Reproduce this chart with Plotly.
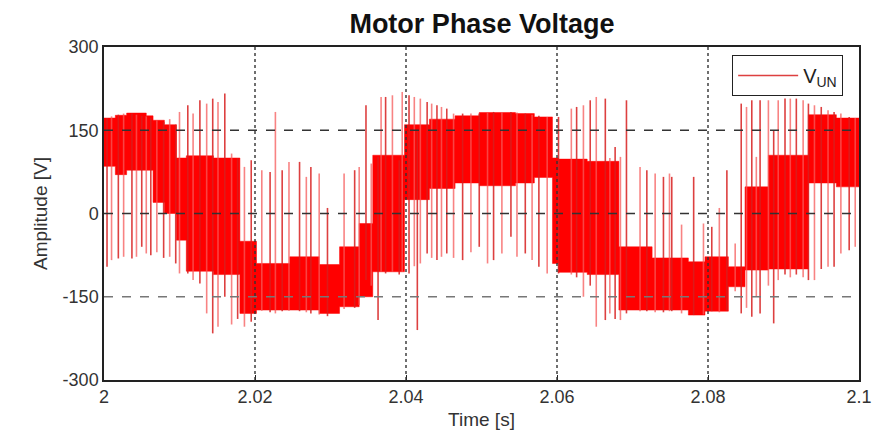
import plotly.graph_objects as go

# ---- data, time offsets in ms after t = 2 s ----
# dense switching band: segment start/end (ms), upper and lower level (V)
seg_start = [0, 1.5, 3, 5.6, 6.5, 8.0, 9.6, 10.9, 14.5, 18.0, 20.2, 24.6, 28.5, 31.2, 33.8, 35.6, 39.8,
             43.1, 46.5, 49.7, 54.5, 57.0, 59.4, 60.2, 64.0, 68.2, 72.6, 77.4, 79.6, 82.7, 84.9, 88.0, 93.3, 97.0]
seg_end = [1.5, 3, 5.6, 6.5, 8.0, 9.6, 10.9, 14.5, 18.0, 20.2, 24.6, 28.5, 31.2, 33.8, 35.6, 39.8, 43.1,
           46.5, 49.7, 54.5, 57.0, 59.4, 60.2, 64.0, 68.2, 72.6, 77.4, 79.6, 82.7, 84.9, 88.0, 93.3, 97.0, 100]
seg_hi = [172, 177, 181, 176, 168, 160, 100, 104, 100, -50, -90, -78, -92, -60, -18, 105, 160,
          170, 176, 182, 180, 174, 100, 98, 94, -60, -80, -87, -78, -96, 48, 105, 178, 172]
seg_lo = [85, 70, 78, 78, 20, 0, -48, -104, -110, -180, -174, -174, -180, -168, -150, -105, 25,
          45, 55, 50, 55, 65, -90, -106, -110, -174, -174, -183, -176, -132, -102, -100, 55, 48]

# individual switching spikes: time (ms), lowest and highest value (V)
spike_ms = [0.4, 1.0, 1.9, 2.6, 3.7, 4.3, 5.0, 5.6, 6.2, 7.0, 7.9, 8.7, 9.5,
            10.0, 11.1, 11.8, 12.7, 13.6, 14.4, 15.1, 16.0, 16.9, 17.7,
            18.6, 19.5, 20.9, 22.0, 22.7, 23.6, 24.5,
            25.9, 26.8, 27.4, 28.5, 29.6, 31.8, 33.2, 33.8, 34.7, 35.4, 36.3,
            36.7, 37.3, 38.2, 39.1, 39.5,
            40.4, 41.1, 41.5, 41.9, 42.8, 43.4, 44.1, 44.7, 45.4, 46.3,
            47.5, 48.6, 49.7, 50.8, 51.6, 52.7, 53.9, 54.7, 55.8, 56.7, 57.6, 58.7,
            60.2, 61.9, 62.6, 63.5, 64.4, 65.2, 66.4, 67.0, 67.7, 68.4, 69.2,
            71.0, 71.9, 73.0, 74.1, 74.9,
            75.2, 76.5, 78.1, 79.4, 80.5, 81.5, 82.5, 83.6,
            84.4, 85.1, 85.8, 86.4, 86.9, 88.0, 88.7, 89.3, 90.2, 90.9, 91.7, 92.6,
            93.3, 94.1, 95.0, 95.9, 96.7, 97.6, 98.7, 99.5]
spike_lo = [-96, -84, -81, -78, -81, -78, -60, -72, -75, -70, -80, -78, -90,
            -108, -108, -120, -126, -180, -216, -204, -150, -200, -190,
            -204, -195, -175, -178, -180, -176, -175,
            -176, -178, -180, -182, -185, -172, -170, -165, -120, -130, -192,
            -105, -108, -105, -110, -105,
            -108, -95, -210, -90, -72, -80, -84, -78, -72, -80,
            -84, -70, -60, -90, -84, -72, -42, -78, -72, -84, -96, -108,
            -108, -110, -115, -150, -130, -204, -192, -180, -190, -192, -180,
            -176, -176, -178, -178, -176,
            -176, -180, -183, -182, -176, -178, -175, -140,
            -180, -170, -186, -150, -180, -130, -198, -120, -110, -115, -110, -115,
            -120, -120, -100, -96, -96, -72, -66, -60]
spike_hi = [172, 175, 178, 180, 180, 178, 176, 175, 172, 168, 165, 170, 160,
            183, 195, 180, 204, 198, 207, 201, 216, 108, 100,
            84, 96, 78, 75, 183, 78, 93,
            93, 66, 84, 72, 10, 72, 78, 84, 195, 90, 102,
            210, 210, 213, 96, 219,
            213, 210, 150, 207, 201, 198, 195, 192, 189, 180,
            180, 180, 180, 182, 183, 183, 183, 182, 180, 178, 176, 174,
            174, 189, 192, 195, 204, 210, 207, 100, 120, 102, 204,
            84, 78, 72, 66, 72,
            66, -20, 66, -18, -24, 10, 78, -54,
            198, 192, 204, 102, 204, 204, 150, 204, 207, 207, 207, 204,
            198, 195, 192, 186, 183, 180, 174, 172]

x_tickvals = [2.0, 2.02, 2.04, 2.06, 2.08, 2.1]
x_ticktext = ["2", "2.02", "2.04", "2.06", "2.08", "2.1"]
y_tickvals = [-300, -150, 0, 150, 300]
y_ticktext = ["-300", "-150", "0", "150", "300"]

T0 = 2.0
def t(ms):
    return T0 + ms / 1000.0

# band polygon
top_x, top_y = [], []
for s, e, h in zip(seg_start, seg_end, seg_hi):
    top_x += [t(s), t(e)]
    top_y += [h, h]
bot_x, bot_y = [], []
for s, e, l in zip(seg_start, seg_end, seg_lo):
    bot_x += [t(s), t(e)]
    bot_y += [l, l]
poly_x = top_x + bot_x[::-1] + [top_x[0]]
poly_y = top_y + bot_y[::-1] + [top_y[0]]

# spikes as vertical segments
sx_a, sy_a, sx_b, sy_b = [], [], [], []
for i, (m, lo, hi) in enumerate(zip(spike_ms, spike_lo, spike_hi)):
    if i % 2 == 0:
        sx_a += [t(m), t(m), None]
        sy_a += [lo, hi, None]
    else:
        sx_b += [t(m), t(m), None]
        sy_b += [lo, hi, None]

fig = go.Figure()
fig.add_trace(go.Scatter(x=poly_x, y=poly_y, mode="lines", fill="toself",
                         fillcolor="#ff0000", line=dict(width=0.5, color="#ff0000"),
                         showlegend=False, hoverinfo="skip"))
fig.add_trace(go.Scatter(x=sx_a, y=sy_a, mode="lines",
                         line=dict(width=1.6, color="rgba(215,30,30,0.85)"),
                         name="V<sub>UN</sub>", showlegend=True))
fig.add_trace(go.Scatter(x=sx_b, y=sy_b, mode="lines",
                         line=dict(width=1.6, color="rgba(245,90,90,0.75)"),
                         showlegend=False))

# grid lines drawn above the data, as in the original
shapes = []
for v in [150, 0, -150]:
    shapes.append(dict(type="line", xref="paper", x0=0, x1=1, yref="y", y0=v, y1=v,
                       line=dict(color="#333333" if v != -150 else "#777777", width=1.4, dash="dash"),
                       layer="above"))
for xv in x_tickvals[1:-1]:
    shapes.append(dict(type="line", yref="paper", y0=0, y1=1, xref="x", x0=xv, x1=xv,
                       line=dict(color="#333333", width=1.4, dash="dot"), layer="above"))

font_family = "Liberation Sans, Arial, sans-serif"
fig.update_layout(
    width=876, height=431,
    margin=dict(l=96, r=23, t=39, b=59),
    paper_bgcolor="white", plot_bgcolor="white",
    title=dict(text="<b>Motor Phase Voltage</b>", x=0.541, xanchor="center",
               y=0.965, yanchor="middle", yref="container",
               font=dict(family=font_family, size=27, color="#111111")),
    shapes=shapes,
    showlegend=True,
    legend=dict(x=0.979, xanchor="right", y=0.976, yanchor="top",
                bgcolor="white", bordercolor="#222222", borderwidth=1,
                font=dict(family=font_family, size=20, color="#222222"),
                itemwidth=60),
    xaxis=dict(range=[2.0, 2.1], tickvals=x_tickvals, ticktext=x_ticktext,
               showgrid=False, zeroline=False,
               showline=True, linecolor="#222222", linewidth=1.5, mirror=True,
               ticks="inside", ticklen=5, tickcolor="#222222",
               tickfont=dict(family=font_family, size=18, color="#333333"),
               title=dict(text="Time [s]", standoff=6,
                          font=dict(family=font_family, size=19, color="#333333"))),
    yaxis=dict(range=[-300, 300], tickvals=y_tickvals, ticktext=y_ticktext,
               showgrid=False, zeroline=False,
               showline=True, linecolor="#222222", linewidth=1.5, mirror=True,
               ticks="inside", ticklen=5, tickcolor="#222222",
               tickfont=dict(family=font_family, size=18, color="#333333"),
               title=dict(text="Amplitude [V]", standoff=10,
                          font=dict(family=font_family, size=19, color="#333333"))),
)

fig.write_html("out.html")
